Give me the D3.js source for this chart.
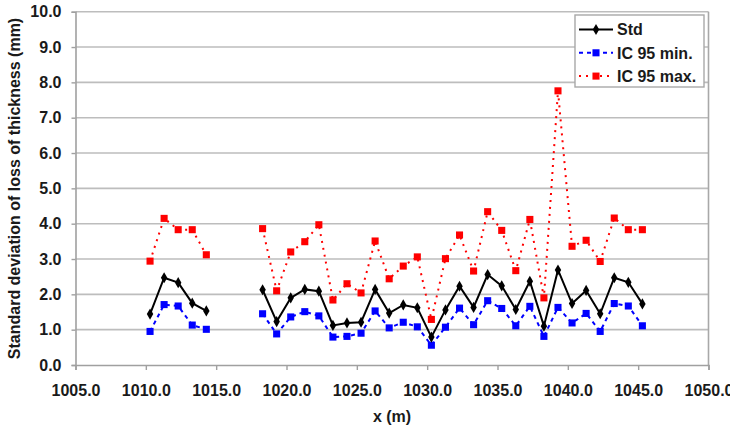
<!DOCTYPE html>
<html>
<head>
<meta charset="utf-8">
<script src="https://cdn.jsdelivr.net/npm/d3@7"></script>
<style>
  html, body { margin: 0; padding: 0; background: #fff; }
  svg { display: block; }
  text { font-family: "Liberation Sans", Arial, sans-serif; font-weight: bold; fill: #1a1a1a; }
</style>
</head>
<body>
<svg id="chart" width="730" height="426"></svg>
<script>
// ---- data ----
const xPositions = [1010.3, 1011.3, 1012.3, 1013.3, 1014.3, 1015.3, 1016.3, 1017.3,
  1018.3, 1019.3, 1020.3, 1021.3, 1022.3, 1023.3, 1024.3, 1025.3, 1026.3, 1027.3,
  1028.3, 1029.3, 1030.3, 1031.3, 1032.3, 1033.3, 1034.3, 1035.3, 1036.3, 1037.3,
  1038.3, 1039.3, 1040.3, 1041.3, 1042.3, 1043.3, 1044.3, 1045.3];
const stdValues = [1.44, 2.47, 2.33, 1.75, 1.53, null, null, null,
  2.13, 1.23, 1.90, 2.14, 2.09, 1.12, 1.19, 1.21, 2.14, 1.47,
  1.70, 1.62, 0.79, 1.56, 2.23, 1.63, 2.56, 2.24, 1.57, 2.37,
  1.10, 2.69, 1.74, 2.11, 1.45, 2.47, 2.34, 1.73];
const icMinValues = [0.95, 1.71, 1.67, 1.13, 1.01, null, null, null,
  1.45, 0.88, 1.36, 1.51, 1.39, 0.79, 0.81, 0.90, 1.53, 1.05,
  1.21, 1.08, 0.56, 1.07, 1.61, 1.14, 1.82, 1.60, 1.11, 1.66,
  0.81, 1.63, 1.19, 1.46, 0.95, 1.74, 1.67, 1.11];
const icMaxValues = [2.94, 4.15, 3.83, 3.83, 3.12, null, null, null,
  3.86, 2.10, 3.20, 3.49, 3.97, 1.84, 2.30, 2.04, 3.51, 2.44,
  2.80, 3.06, 1.29, 3.01, 3.68, 2.66, 4.34, 3.81, 2.67, 4.12,
  1.90, 7.76, 3.36, 3.53, 2.93, 4.16, 3.83, 3.83];
const xTicks = [1005, 1010, 1015, 1020, 1025, 1030, 1035, 1040, 1045, 1050];
const yTicks = [0, 1, 2, 3, 4, 5, 6, 7, 8, 9, 10];
const seriesNames = ["Std", "IC 95 min.", "IC 95 max."];
const xTitle = "x (m)";
const yTitle = "Standard deviation of loss of thickness (mm)";

// ---- layout ----
const svg = d3.select("#chart");
const plot = { left: 75.5, right: 708.5, top: 11.7, bottom: 365 };
const x = d3.scaleLinear().domain([1005, 1050]).range([plot.left, plot.right]);
const y = d3.scaleLinear().domain([0, 10]).range([plot.bottom, plot.top]);

// gridlines
svg.append("g").selectAll("line").data(yTicks.filter(d => d > 0)).join("line")
  .attr("x1", plot.left).attr("x2", plot.right)
  .attr("y1", d => y(d)).attr("y2", d => y(d))
  .attr("stroke", "#bdbdbd").attr("stroke-width", 1.6);

// right border
svg.append("line").attr("x1", plot.right).attr("x2", plot.right)
  .attr("y1", plot.top).attr("y2", plot.bottom)
  .attr("stroke", "#a8a8a8").attr("stroke-width", 1.6);

const fmt = d3.format(".1f");
// x axis
const gx = svg.append("g").attr("transform", `translate(0,${plot.bottom})`)
  .call(d3.axisBottom(x).tickValues(xTicks).tickFormat(fmt).tickSize(5).tickPadding(15));
// y axis
const gy = svg.append("g").attr("transform", `translate(${plot.left},0)`)
  .call(d3.axisLeft(y).tickValues(yTicks).tickFormat(fmt).tickSize(4).tickPadding(10));
[gx, gy].forEach(g => {
  g.select(".domain").attr("stroke", "#a0a0a0").attr("stroke-width", 1.6);
  g.selectAll(".tick line").attr("stroke", "#a0a0a0").attr("stroke-width", 1.4);
  g.selectAll(".tick text").style("font-size", "16px").style("font-family", "Liberation Sans, Arial, sans-serif")
    .style("font-weight", "bold").attr("fill", "#1a1a1a");
});

// titles
svg.append("text").attr("x", 392).attr("y", 422).attr("text-anchor", "middle")
  .style("font-size", "16px").text(xTitle);
svg.append("text").attr("transform", "translate(20,188.5) rotate(-90)").attr("text-anchor", "middle")
  .style("font-size", "16px").text(yTitle);

// series
const series = [
  { name: seriesNames[0], values: stdValues, color: "#000000", dash: null, marker: "diamond" },
  { name: seriesNames[1], values: icMinValues, color: "#0000ff", dash: "4,4", marker: "square" },
  { name: seriesNames[2], values: icMaxValues, color: "#ff0000", dash: "2,5", marker: "square" }
];
const line = d3.line().defined(d => d.v !== null).x(d => x(d.x)).y(d => y(d.v));
const sym = {
  diamond: d3.symbol().type(d3.symbolDiamond).size(36),
  square: d3.symbol().type(d3.symbolSquare).size(50)
};

// draw order: max, min, std on top
[series[2], series[1], series[0]].forEach(s => {
  const pts = xPositions.map((xv, i) => ({ x: xv, v: s.values[i] }));
  svg.append("path").datum(pts).attr("d", line)
    .attr("fill", "none").attr("stroke", s.color).attr("stroke-width", 2)
    .attr("stroke-dasharray", s.dash);
  svg.append("g").selectAll("path").data(pts.filter(d => d.v !== null)).join("path")
    .attr("transform", d => `translate(${x(d.x)},${y(d.v)})`)
    .attr("d", sym[s.marker]).attr("fill", s.color);
});

// legend
const lg = svg.append("g");
lg.append("rect").attr("x", 575).attr("y", 15).attr("width", 129).attr("height", 72)
  .attr("fill", "#fff").attr("stroke", "#a8a8a8").attr("stroke-width", 1.4);
series.forEach((s, i) => {
  const cy = 29.5 + i * 23.3;
  lg.append("line").attr("x1", 579).attr("x2", 613).attr("y1", cy).attr("y2", cy)
    .attr("stroke", s.color).attr("stroke-width", 2).attr("stroke-dasharray", s.dash);
  lg.append("path").attr("transform", `translate(596,${cy})`).attr("d", sym[s.marker]).attr("fill", s.color);
  lg.append("text").attr("x", 617).attr("y", cy).attr("dy", "0.36em")
    .style("font-size", "16px").text(s.name);
});
</script>
</body>
</html>
